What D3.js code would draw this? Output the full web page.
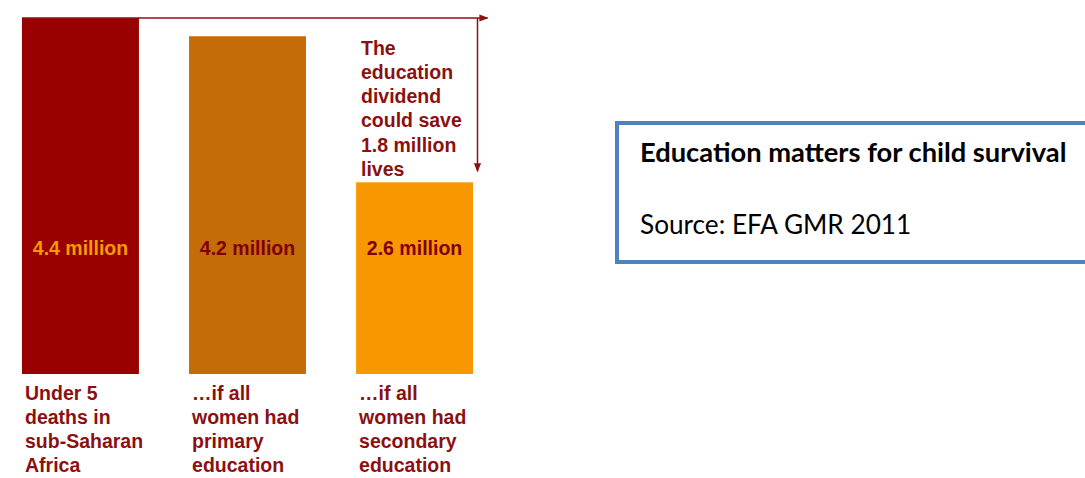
<!DOCTYPE html>
<html>
<head>
<meta charset="utf-8">
<script src="https://cdn.jsdelivr.net/npm/d3@7"></script>
<style>
  body { margin: 0; background: #fff; }
  svg { display: block; }
</style>
</head>
<body>
<div id="chart"></div>
<script>
// Under-5 deaths in sub-Saharan Africa (millions)
var categories = ["Under 5 deaths", "Primary", "Secondary"]
var values = [4.4, 4.2, 2.6]
var valueLabels = ["4.4 million", "4.2 million", "2.6 million"]
var categoryLines = [
    ["Under 5", "deaths in", "sub-Saharan", "Africa"],
    ["\u2026if all", "women had", "primary", "education"],
    ["\u2026if all", "women had", "secondary", "education"]
]
var noteLines = ["The", "education", "dividend", "could save", "1.8 million", "lives"]
var boxTitle = "Education matters for child survival"
var boxSource = "Source: EFA GMR 2011"

var barColors = ["#990000", "#c46c08", "#f79800"]
var valueColors = ["#f59a00", "#800000", "#800000"]
var darkRed = "#8b1010"

var width = 1085, height = 478

var svg = d3.select("#chart").append("svg")
    .attr("width", width)
    .attr("height", height)

// scales
var x = d3.scaleBand()
    .domain(categories)
    .range([22, 473])
    .paddingInner(0.3)
    .paddingOuter(0)

var y = d3.scaleLinear()
    .domain([0.5, 4.4])
    .range([374, 18])

// bars
svg.selectAll("rect.bar")
    .data(values)
    .enter().append("rect")
    .attr("class", "bar")
    .attr("x", function(d, i) { return x(categories[i]) })
    .attr("y", function(d) { return y(d) })
    .attr("width", x.bandwidth())
    .attr("height", function(d) { return y(0.5) - y(d) })
    .attr("fill", function(d, i) { return barColors[i] })

// value labels inside bars
svg.selectAll("text.value")
    .data(valueLabels)
    .enter().append("text")
    .attr("class", "value")
    .attr("x", function(d, i) { return x(categories[i]) + x.bandwidth() / 2 })
    .attr("y", 255)
    .attr("text-anchor", "middle")
    .attr("font-family", "'Liberation Sans', Arial, sans-serif")
    .attr("font-weight", "bold")
    .attr("font-size", 19.5)
    .attr("fill", function(d, i) { return valueColors[i] })
    .text(function(d) { return d })

// category labels under bars
categoryLines.forEach(function(lines, i) {
    var t = svg.append("text")
        .attr("font-family", "'Liberation Sans', Arial, sans-serif")
        .attr("font-weight", "bold")
        .attr("font-size", 19.5)
        .attr("fill", darkRed)
    lines.forEach(function(line, j) {
        t.append("tspan")
            .attr("x", x(categories[i]) + 3)
            .attr("y", 399.5 + j * 24.3)
            .text(line)
    })
})

// arrow markers
var defs = svg.append("defs")
defs.append("marker")
    .attr("id", "arrow")
    .attr("viewBox", "0 0 10 10")
    .attr("refX", 9)
    .attr("refY", 5)
    .attr("markerWidth", 9)
    .attr("markerHeight", 9)
    .attr("markerUnits", "userSpaceOnUse")
    .attr("orient", "auto")
    .append("path")
    .attr("d", "M0,1 L10,5 L0,9 Z")
    .attr("fill", darkRed)

// dividend arrow: across from top of first bar, then down toward third bar
var topY = y(values[0])
var arrowX = x(categories[2]) + x.bandwidth() + 4.5
svg.append("line")
    .attr("x1", x(categories[0]))
    .attr("y1", topY)
    .attr("x2", arrowX + 10)
    .attr("y2", topY)
    .attr("stroke", darkRed)
    .attr("stroke-width", 1.5)
    .attr("marker-end", "url(#arrow)")

svg.append("line")
    .attr("x1", arrowX)
    .attr("y1", topY)
    .attr("x2", arrowX)
    .attr("y2", y(values[2]) - 11)
    .attr("stroke", darkRed)
    .attr("stroke-width", 1.5)
    .attr("marker-end", "url(#arrow)")

// dividend note
var note = svg.append("text")
    .attr("font-family", "'Liberation Sans', Arial, sans-serif")
    .attr("font-weight", "bold")
    .attr("font-size", 19.5)
    .attr("fill", darkRed)
noteLines.forEach(function(line, j) {
    note.append("tspan")
        .attr("x", 361)
        .attr("y", 54.5 + j * 24.3)
        .text(line)
})

// caption box (runs off the right edge)
svg.append("rect")
    .attr("x", 617)
    .attr("y", 123)
    .attr("width", 500)
    .attr("height", 139)
    .attr("fill", "#fff")
    .attr("stroke", "#4f81bd")
    .attr("stroke-width", 4)

svg.append("text")
    .attr("x", 640)
    .attr("y", 162)
    .attr("font-family", "Lato, 'Open Sans', sans-serif")
    .attr("font-weight", "bold")
    .attr("font-size", 27.3)
    .attr("fill", "#000")
    .text(boxTitle)

svg.append("text")
    .attr("x", 640)
    .attr("y", 234)
    .attr("font-family", "Lato, 'Open Sans', sans-serif")
    .attr("font-size", 26.2)
    .attr("fill", "#000")
    .text(boxSource)
</script>
</body>
</html>
